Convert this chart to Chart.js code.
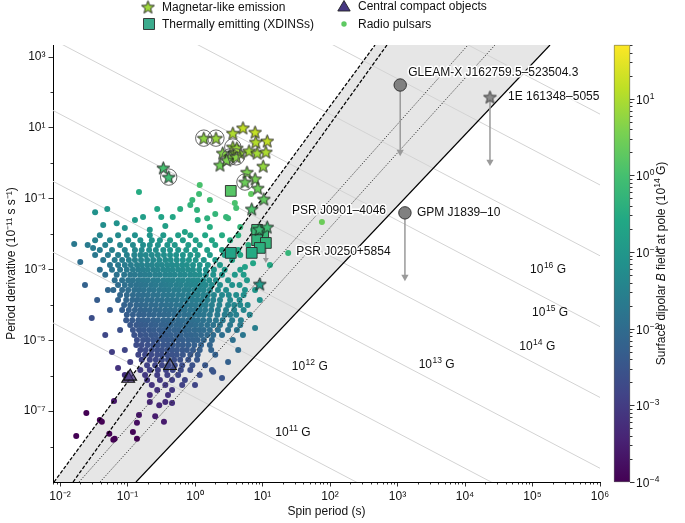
<!DOCTYPE html>
<html><head><meta charset="utf-8">
<script src="https://cdn.jsdelivr.net/npm/chart.js@4.4.1/dist/chart.umd.min.js"></script>
<style>html,body{margin:0;padding:0;background:#fff}#wrap{width:685px;height:523px}</style>
</head><body><div id="wrap"><canvas id="c" width="685" height="523"></canvas></div>
<script>
// ---------------- DATA (log10 values) ----------------
// Radio pulsars: rows of [log10 Pdot (1e-11 s/s), [log10 P (s), ...]]
const pulsarRows = [
 [-0.61,[0.07]],[-0.81,[-0.83]],[-0.87,[0.06,0.83]],[-1.04,[-0.04,0.22]],[-1.12,[0.59]],[-1.18,[-0.07]],
 [-1.26,[0.61]],[-1.29,[-1.30,-0.56,-0.22]],[-1.32,[0.03]],[-1.38,[-1.48]],[-1.43,[0.30]],
 [-1.52,[-0.77,-0.50,-0.33,0.46]],[-1.55,[0.18,0.49]],[-1.60,[-0.89,0.04]],[-1.69,[-1.16]],[-1.74,[-1.36]],
 [-1.77,[-0.44]],[-1.80,[0.22,0.67]],[-1.83,[-1.04]],[-1.88,[-0.67,0.86]],[-1.94,[-0.15]],
 [-2.03,[-1.41,-1.14,-0.89,-0.67,-0.47,-0.25,-0.07,0.15,0.40,0.64]],
 [-2.17,[-1.48,-1.26,-0.99,-0.81,-0.64,-0.52,-0.37,-0.18,0.01,0.25,0.52]],
 [-2.28,[-1.79]],
 [-2.31,[-1.59,-1.33,-1.11,-0.92,-0.77,-0.67,-0.55,-0.41,-0.30,-0.10,0.07,0.30,0.79]],
 [-2.39,[-1.51]],
 [-2.45,[-1.41,-1.23,-1.04,-0.89,-0.79,-0.68,-0.58,-0.47,-0.37,-0.25,-0.13,0.00,0.18,0.40,0.64]],
 [-2.59,[-1.48,-1.29,-1.14,-1.01,-0.90,-0.81,-0.73,-0.64,-0.55,-0.46,-0.37,-0.28,-0.18,-0.07,0.04,0.22,0.44,0.67]],
 [-2.73,[-1.36,-1.19,-1.08,-0.98,-0.89,-0.80,-0.71,-0.62,-0.53,-0.44,-0.36,-0.27,-0.18,-0.09,0.01,0.13,0.30,0.55]],
 [-2.79,[-1.70]],[-2.82,[0.86]],
 [-2.87,[-1.26,-1.14,-1.04,-0.95,-0.86,-0.79,-0.71,-0.64,-0.56,-0.49,-0.41,-0.34,-0.27,-0.19,-0.12,-0.03,0.07,0.19,0.37,1.11]],
 [-2.93,[0.74]],
 [-3.01,[-1.41,-1.23,-1.11,-1.01,-0.92,-0.84,-0.77,-0.70,-0.62,-0.55,-0.47,-0.40,-0.33,-0.25,-0.18,-0.10,-0.03,0.06,0.16,0.28,0.44,0.67]],
 [-3.15,[-1.33,-1.16,-1.05,-0.96,-0.89,-0.81,-0.74,-0.67,-0.59,-0.52,-0.44,-0.37,-0.30,-0.22,-0.15,-0.07,0.00,0.07,0.16,0.27,0.40,0.59,0.72]],
 [-3.30,[-1.19,-1.08,-0.99,-0.92,-0.84,-0.77,-0.70,-0.62,-0.55,-0.47,-0.40,-0.33,-0.25,-0.18,-0.10,-0.03,0.04,0.12,0.21,0.31,0.49,0.77]],
 [-3.44,[-1.63,-1.14,-1.04,-0.95,-0.87,-0.80,-0.73,-0.65,-0.58,-0.50,-0.43,-0.36,-0.28,-0.21,-0.13,-0.06,0.01,0.09,0.16,0.25,0.37,0.55,0.66]],
 [-3.58,[-1.29,-1.21,-1.08,-0.99,-0.90,-0.83,-0.76,-0.68,-0.61,-0.53,-0.46,-0.39,-0.31,-0.24,-0.16,-0.09,-0.01,0.06,0.13,0.22,0.34,0.46,0.74,0.89]],
 [-3.72,[-1.11,-1.01,-0.92,-0.84,-0.77,-0.70,-0.62,-0.55,-0.47,-0.40,-0.33,-0.25,-0.18,-0.10,-0.03,0.04,0.12,0.19,0.28,0.40,0.50,0.61,0.72]],
 [-3.86,[-1.45,-1.14,-1.02,-0.93,-0.86,-0.79,-0.71,-0.64,-0.56,-0.49,-0.41,-0.34,-0.27,-0.19,-0.12,-0.04,0.03,0.10,0.18,0.27,0.37,0.52,0.66,0.96]],
 [-4.00,[-1.05,-0.96,-0.87,-0.80,-0.73,-0.65,-0.58,-0.50,-0.43,-0.36,-0.28,-0.21,-0.13,-0.06,0.01,0.09,0.16,0.25,0.36,0.49,0.58,0.67,0.78]],
 [-4.14,[-1.26,-1.08,-0.98,-0.89,-0.81,-0.74,-0.67,-0.59,-0.52,-0.44,-0.37,-0.30,-0.22,-0.15,-0.07,0.00,0.07,0.15,0.24,0.34,0.46,0.58,0.72]],
 [-4.28,[-1.01,-0.92,-0.83,-0.76,-0.68,-0.61,-0.53,-0.46,-0.39,-0.31,-0.24,-0.16,-0.09,-0.01,0.06,0.13,0.22,0.33,0.44,0.52,0.61,0.81]],
 [-4.37,[-1.53]],
 [-4.43,[-1.02,-0.93,-0.84,-0.77,-0.70,-0.62,-0.55,-0.47,-0.40,-0.33,-0.25,-0.18,-0.10,-0.03,0.04,0.12,0.21,0.31,0.41,0.55,0.68]],
 [-4.57,[-0.96,-0.87,-0.80,-0.73,-0.65,-0.58,-0.50,-0.43,-0.36,-0.28,-0.21,-0.13,-0.06,0.01,0.09,0.18,0.27,0.37,0.52,0.67]],
 [-4.65,[0.89]],
 [-4.71,[-1.11,-0.92,-0.83,-0.76,-0.68,-0.61,-0.53,-0.46,-0.39,-0.31,-0.24,-0.16,-0.09,-0.01,0.06,0.13,0.22,0.34,0.49,0.62]],
 [-4.85,[-1.33,-0.90,-0.81,-0.73,-0.65,-0.58,-0.50,-0.43,-0.36,-0.28,-0.21,-0.13,-0.06,0.01,0.09,0.18,0.27,0.40,0.71]],
 [-4.99,[-0.86,-0.77,-0.70,-0.62,-0.55,-0.47,-0.40,-0.33,-0.25,-0.18,-0.10,-0.03,0.04,0.13,0.25,0.56]],
 [-5.13,[-0.87,-0.79,-0.70,-0.62,-0.55,-0.47,-0.40,-0.33,-0.25,-0.18,-0.10,-0.01,0.09,0.22]],
 [-5.27,[-1.04,-0.81,-0.73,-0.64,-0.56,-0.49,-0.41,-0.34,-0.27,-0.19,-0.12,-0.03,0.07,0.24,0.64]],
 [-5.33,[-1.23]],
 [-5.41,[-0.84,-0.74,-0.65,-0.56,-0.49,-0.41,-0.34,-0.27,-0.18,-0.07,0.04,0.30]],
 [-5.55,[-0.79,-0.67,-0.58,-0.49,-0.40,-0.31,-0.22,-0.10,0.03]],
 [-5.61,[-0.96,0.49]],
 [-5.70,[-0.71,-0.59,-0.49,-0.40,-0.30,-0.19,-0.04,0.15]],
 [-5.78,[-1.14]],
 [-5.84,[-0.81,-0.67,-0.55,-0.43,-0.33,-0.21,-0.07,0.25]],
 [-5.89,[0.27]],
 [-5.98,[-1.04,-0.74,-0.56,-0.41,-0.25,0.07]],
 [-6.06,[0.40]],
 [-6.12,[-0.71,-0.52,-0.34,-0.15]],
 [-6.26,[-0.64,-0.44,-0.19,0.00]],
 [-6.40,[-0.56,-0.34]],[-6.54,[-0.67,-0.40]],[-6.71,[-1.20]],[-6.74,[-0.67,-0.44]],[-6.77,[-0.34]],
 [-6.83,[-0.53]],[-7.05,[-1.61]],[-7.11,[-0.83]],[-7.14,[-0.59]],[-7.25,[-1.41]],[-7.30,[-1.38,-0.46]],
 [-7.33,[-0.86]],[-7.59,[-0.92]],[-7.64,[-1.27]],[-7.70,[-1.76]],[-7.78,[-1.19,-0.86]],[-7.81,[-1.21]]
];
// Named radio pulsars
const namedPsr = ['PSR J0901–4046','PSR J0250+5854'];
const namedPsrLogP = [1.88, 1.38];
const namedPsrLogPdot = [-1.66, -2.53];
// Magnetar-like emission
const magLogP =    [0.71,0.89,0.56,1.07,0.90,0.13,0.31,0.56,0.41,0.59,0.67,0.80,0.92,1.05,0.52,0.61,0.37,1.01,0.77,0.74,0.89,0.93,1.02,0.84,-0.47,-0.39,0.95,1.07,0.96,0.62,0.47];
const magLogPdot = [1.00,0.88,0.85,0.63,0.60,0.71,0.71,0.46,0.29,0.29,0.29,0.35,0.29,0.32,0.18,0.18,-0.05,-0.08,-0.25,-0.53,-0.44,-0.70,-1.01,-1.29,-0.13,-0.39,-1.86,-1.80,-3.41,0.43,0.09];
const magRadio =   [0,0,0,0,0,1,1,1,0,0,0,0,0,0,1,1,0,0,0,1,0,0,0,0,0,1,0,0,0,0,0];
// Thermally emitting (XDINSs)
const xdinsLogP =    [0.53,0.53,0.92,1.01,0.92,1.05,0.96,0.84];
const xdinsLogPdot = [-0.78,-2.53,-1.88,-1.97,-2.17,-2.25,-2.39,-2.53];
const xdinsLimitLogPdot = [null,null,null,null,null,-2.72,null,null];
// Central compact objects
const ccoLogP =    [-0.99,-0.96,-0.37];
const ccoLogPdot = [-6.08,-6.02,-5.72];
// Long-period objects with upper limits
const specialNames = ['GLEAM-X J162759.5–523504.3','GPM J1839–10','1E 161348–5055'];
const specialLogP = [3.04, 3.11, 4.37];
const specialLogPdot = [2.21, -1.40, 1.87];
const specialLimitLogPdot = [0.32, -3.21, 0.04];
const specialIsStar = [0,0,1];
// Death lines: log10 P where each line meets the bottom / top of the plot
const deathLogPdotEnds = [-9, 3.34];
const deathBottomLogP = [-2.089,-1.807,-1.719,-1.407,-0.874];
const deathTopLogP    = [ 2.667, 2.844, 4.044, 4.444, 5.259];
// Constant-B lines (log10 B in gauss) and labelled ones
const bLineExp = [11,12,13,14,15,16,17,18];
const bLabelExp = [11,12,13,14,15,16];
// Axis tick exponents
const xTickExp = [-2,-1,0,1,2,3,4,5,6];
const yTickExp = [-7,-5,-3,-1,1,3];
const yMinorExp = [-8,-6,-4,-2,0,2];
const cbTickExp = [-4,-3,-2,-1,0,1];
const AX = {xMin:-2.104, xMax:6, yMin:-9, yMax:3.34, cbMin:-4, cbMax:1.7};

// ---------------- helpers ----------------
const FONT = "'Liberation Sans', Arial, Helvetica, sans-serif";
Chart.defaults.font.family = FONT;
Chart.defaults.color = '#111';
const P10 = v => Math.pow(10, v);
const SUP = {'-':'⁻','0':'⁰','1':'¹','2':'²','3':'³','4':'⁴','5':'⁵','6':'⁶','7':'⁷','8':'⁸','9':'⁹'};
const sup = n => String(n).split('').map(c => SUP[c]).join('');
const VIR = ['#440154','#482475','#414487','#355f8d','#2a788e','#21918c','#22a884','#44bf70','#7ad151','#bddf26','#fde725'];
const VIRRGB = VIR.map(h => [parseInt(h.slice(1,3),16),parseInt(h.slice(3,5),16),parseInt(h.slice(5,7),16)]);
function cmap(t, alpha){ t=Math.max(0,Math.min(1,t)); const s=t*10; const i=Math.min(9,Math.floor(s)); const f=s-i;
  const a=VIRRGB[i], b=VIRRGB[i+1];
  const rgb=[0,1,2].map(k=>Math.round(a[k]+(b[k]-a[k])*f)).join(',');
  return alpha===undefined ? 'rgb('+rgb+')' : 'rgba('+rgb+','+alpha+')'; }
const logB14 = (lp, lpd) => Math.log10(6.4e19) - 14 + 0.5*(lp + lpd - 11);
const bColor = (lp, lpd, al) => cmap((logB14(lp,lpd)-AX.cbMin)/(AX.cbMax-AX.cbMin), al);
function starCanvas(fill, stroke, R){
  const s = Math.ceil(2*R+3); const c = document.createElement('canvas'); c.width=c.height=s;
  const g = c.getContext('2d'); g.translate(s/2, s/2+0.6); g.beginPath();
  for (let k=0;k<10;k++){ const r = k%2 ? R*0.42 : R; const a = -Math.PI/2 + k*Math.PI/5; g.lineTo(r*Math.cos(a), r*Math.sin(a)); }
  g.closePath(); g.fillStyle=fill; g.fill(); g.lineWidth=0.9; g.strokeStyle=stroke; g.lineJoin='miter'; g.stroke(); return c; }
// "10^n suffix" drawn with a raised smaller exponent; returns width
function drawPow(ctx, n, x, y, align, suffix){
  const base='12px '+FONT, small='8.5px '+FONT; suffix = suffix || '';
  ctx.font=base; const w1=ctx.measureText('10').width; const w3=ctx.measureText(suffix).width;
  const es=String(n).replace('-','−'); ctx.font=small; const w2=ctx.measureText(es).width+0.5;
  const tw=w1+w2+w3; let x0 = align==='center' ? x-tw/2 : (align==='right' ? x-tw : x);
  ctx.textAlign='left'; ctx.textBaseline='middle';
  ctx.font=base; ctx.fillText('10',x0,y);
  ctx.font=small; ctx.fillText(es,x0+w1+0.5,y-4.5);
  ctx.font=base; if (suffix) ctx.fillText(suffix,x0+w1+w2,y);
  return tw;
}

// ---------------- datasets ----------------
const pulsarPts = [], pulsarCols = [];
pulsarRows.forEach(([lpd, lps]) => lps.forEach(lp => { pulsarPts.push({x:P10(lp), y:P10(lpd)}); pulsarCols.push(bColor(lp,lpd)); }));
namedPsrLogP.forEach((lp,i) => { pulsarPts.push({x:P10(lp), y:P10(namedPsrLogPdot[i])}); pulsarCols.push(bColor(lp,namedPsrLogPdot[i])); });

const magImgs = magLogP.map((lp,i) => starCanvas(bColor(lp, magLogPdot[i]), '#1a1a1a', 6.8));
const grayStar = starCanvas('#8a8a8a', '#333', 6.8);
const ds = [];

// gray region between first dashed and solid death line
ds.push({type:'line', data:[
  {x:P10(deathBottomLogP[0]), y:P10(deathLogPdotEnds[0])},{x:P10(deathTopLogP[0]), y:P10(deathLogPdotEnds[1])},
  {x:P10(deathTopLogP[4]), y:P10(deathLogPdotEnds[1])},{x:P10(deathBottomLogP[4]), y:P10(deathLogPdotEnds[0])}],
  fill:'shape', backgroundColor:'#e6e6e6', borderColor:'rgba(0,0,0,0)', borderWidth:0, pointRadius:0, order:10});
// constant-B lines
bLineExp.forEach(n => {
  const k = 2*(n - Math.log10(6.4e19)) + 11; // log10(P*Pdot) in plot units
  ds.push({type:'line', data:[{x:P10(AX.xMin), y:P10(k-AX.xMin)},{x:P10(AX.xMax), y:P10(k-AX.xMax)}],
    borderColor:'#d3d3d3', borderWidth:1, pointRadius:0, fill:false, order:9});
});
// death lines
const dlDash = [[3.6,1.8],[3.6,1.8],[1.2,1.6],[1.2,1.6],[]];
const dlWidth = [1.25,1.25,0.9,0.9,1.2];
const dlColor = ['#000','#000','#222','#222','#000'];
deathBottomLogP.forEach((b,i) => ds.push({type:'line', data:[{x:P10(b),y:P10(deathLogPdotEnds[0])},{x:P10(deathTopLogP[i]),y:P10(deathLogPdotEnds[1])}],
  borderColor:dlColor[i], borderWidth:dlWidth[i], borderDash:dlDash[i], pointRadius:0, fill:false, order:7}));
// radio pulsars
ds.push({type:'scatter', data:pulsarPts, pointRadius:3, pointBorderWidth:0, borderWidth:0,
  backgroundColor: c => pulsarCols[c.dataIndex], pointBackgroundColor: c => pulsarCols[c.dataIndex], order:8});
// CCOs
ds.push({type:'scatter', data:ccoLogP.map((lp,i)=>({x:P10(lp),y:P10(ccoLogPdot[i])})), pointStyle:'triangle', pointRadius:7.4,
  pointBackgroundColor: c => bColor(ccoLogP[c.dataIndex], ccoLogPdot[c.dataIndex], 0.7), pointBorderColor:'#111', pointBorderWidth:1.1, order:6});
// XDINS upper limit arrow
xdinsLimitLogPdot.forEach((lim,i) => { if (lim===null) return;
  ds.push({type:'line', data:[{x:P10(xdinsLogP[i]),y:P10(xdinsLogPdot[i])},{x:P10(xdinsLogP[i]),y:P10(lim)}],
    borderColor:'#999', borderWidth:1.4, pointRadius:[0,3.4], pointStyle:'triangle', pointRotation:180,
    pointBackgroundColor:'#999', pointBorderWidth:0, fill:false, order:5}); });
// XDINSs
ds.push({type:'scatter', data:xdinsLogP.map((lp,i)=>({x:P10(lp),y:P10(xdinsLogPdot[i])})), pointStyle:'rect', pointRadius:7.6,
  pointBackgroundColor: c => bColor(xdinsLogP[c.dataIndex], xdinsLogPdot[c.dataIndex]), pointBorderColor:'#2a2a2a', pointBorderWidth:0.9, order:4});
// magnetars
ds.push({type:'scatter', data:magLogP.map((lp,i)=>({x:P10(lp),y:P10(magLogPdot[i])})), pointStyle: c => magImgs[c.dataIndex], pointRadius:6, order:3});
ds.push({type:'scatter', data:magLogP.map((lp,i)=>({x:P10(lp),y:P10(magLogPdot[i])})).filter((p,i)=>magRadio[i]), pointStyle:'circle', pointRadius:8.2,
  pointBackgroundColor:'rgba(255,255,255,0)', pointBorderColor:'#555', pointBorderWidth:0.9, order:2});
// long-period objects: arrows + markers
specialLogP.forEach((lp,i) => ds.push({type:'line', data:[{x:P10(lp),y:P10(specialLogPdot[i])},{x:P10(lp),y:P10(specialLimitLogPdot[i])}],
  borderColor:'#9a9a9a', borderWidth:1.5, pointRadius:[0,4.2], pointStyle:'triangle', pointRotation:180,
  pointBackgroundColor:'#9a9a9a', pointBorderWidth:0, fill:false, order:1}));
ds.push({type:'scatter', data:specialLogP.map((lp,i)=>({x:P10(lp),y:P10(specialLogPdot[i])})),
  pointStyle: c => specialIsStar[c.dataIndex] ? grayStar : 'circle', pointRadius:6.2,
  pointBackgroundColor:'#808080', pointBorderColor:'#333', pointBorderWidth:1, order:0});

// ---------------- overlay plugin (minor ticks, colorbar, legend, labels) ----------------
function haloText(ctx, t, x, y){ ctx.lineWidth=3; ctx.strokeStyle='#fff'; ctx.lineJoin='round'; ctx.strokeText(t,x,y); ctx.fillStyle='#111'; ctx.fillText(t,x,y); }
const bLabelPos = {11:[1.45,-7.62],12:[1.70,-5.75],13:[3.58,-5.70],14:[5.07,-5.19],15:[5.26,-4.23],16:[5.23,-3.01]};
const nameOffsets = {'GLEAM-X J162759.5–523504.3':[8,-12],'GPM J1839–10':[12,0],'1E 161348–5055':[18,0],'PSR J0901–4046':[-30,-11],'PSR J0250+5854':[8,-1]};
const overlay = {
  id:'overlay',
  afterDraw(chart){
    const {ctx, chartArea:a, scales:{x, y}} = chart;
    ctx.save();
    // minor ticks
    ctx.strokeStyle='#000'; ctx.lineWidth=0.8;
    for (let e=-3;e<6;e++) for (let m=2;m<=9;m++){ const v=m*P10(e); if (v<P10(AX.xMin)||v>P10(AX.xMax)) continue;
      const px=Math.round(x.getPixelForValue(v))+0.5; ctx.beginPath(); ctx.moveTo(px,a.bottom); ctx.lineTo(px,a.bottom+2.5); ctx.stroke(); }
    yMinorExp.forEach(e => { const py=Math.round(y.getPixelForValue(P10(e)))+0.5; ctx.beginPath(); ctx.moveTo(a.left,py); ctx.lineTo(a.left-2.5,py); ctx.stroke(); });
    // B-field labels
    ctx.fillStyle='#111';
    bLabelExp.forEach(n => { const p=bLabelPos[n]; drawPow(ctx, n, x.getPixelForValue(P10(p[0])), y.getPixelForValue(P10(p[1])), 'center', ' G'); });
    // object names
    ctx.font='12px '+FONT; ctx.textAlign='left'; ctx.textBaseline='middle';
    specialNames.forEach((nm,i) => { const o=nameOffsets[nm];
      haloText(ctx, nm, x.getPixelForValue(P10(specialLogP[i]))+o[0], y.getPixelForValue(P10(specialLogPdot[i]))+o[1]); });
    namedPsr.forEach((nm,i) => { const o=nameOffsets[nm];
      haloText(ctx, nm, x.getPixelForValue(P10(namedPsrLogP[i]))+o[0], y.getPixelForValue(P10(namedPsrLogPdot[i]))+o[1]); });
    // colorbar
    const cbL=a.right+14, cbW=16, cbT=a.top, cbB=a.bottom;
    const grad=ctx.createLinearGradient(0,cbB,0,cbT); VIR.forEach((c,i)=>grad.addColorStop(i/10,c));
    ctx.fillStyle=grad; ctx.fillRect(cbL,cbT,cbW,cbB-cbT);
    ctx.strokeStyle='#666'; ctx.lineWidth=0.6; ctx.strokeRect(cbL+0.3,cbT+0.3,cbW-0.6,cbB-cbT-0.6);
    const cbY = lv => cbB - (lv-AX.cbMin)/(AX.cbMax-AX.cbMin)*(cbB-cbT);
    ctx.strokeStyle='#000'; ctx.lineWidth=0.8;
    for (let e=-4;e<=1;e++) for (let m=2;m<=9;m++){ const lv=e+Math.log10(m); if (lv>AX.cbMax) continue;
      const py=Math.round(cbY(lv))+0.5; ctx.beginPath(); ctx.moveTo(cbL+cbW,py); ctx.lineTo(cbL+cbW+2.5,py); ctx.stroke(); }
    ctx.fillStyle='#111';
    cbTickExp.forEach(e => { const py=Math.round(cbY(e))+0.5; ctx.beginPath(); ctx.moveTo(cbL+cbW,py); ctx.lineTo(cbL+cbW+4.5,py); ctx.stroke();
      drawPow(ctx, e, cbL+cbW+6, py+1.5, 'left'); });
    // colorbar title (rotated)
    ctx.save(); ctx.translate(a.right+62, (cbT+cbB)/2); ctx.rotate(-Math.PI/2);
    const segs=[['Surface dipolar ','12px '],['B','italic 12px '],[' field at pole (10','12px '],['14','8.5px '],[' G)','12px ']];
    let tw=0; segs.forEach(s=>{ctx.font=s[1]+FONT; tw+=ctx.measureText(s[0]).width;});
    let cx=-tw/2; ctx.textAlign='left'; ctx.textBaseline='middle';
    segs.forEach(s=>{ctx.font=s[1]+FONT; ctx.fillText(s[0],cx,s[1]==='8.5px '?-4.5:0); cx+=ctx.measureText(s[0]).width;});
    ctx.restore();
    // legend
    ctx.font='12px '+FONT; ctx.textAlign='left'; ctx.textBaseline='middle'; ctx.fillStyle='#111';
    const legStar = starCanvas('#9fd93c', '#1a1a1a', 6.8);
    ctx.drawImage(legStar, 148-legStar.width/2, 7-legStar.height/2);
    ctx.fillStyle='#3cab8d'; ctx.fillRect(143.5,18.5,11,11); ctx.strokeStyle='#2a2a2a'; ctx.lineWidth=0.9; ctx.strokeRect(143.5,18.5,11,11);
    ctx.beginPath(); ctx.moveTo(344,0.5); ctx.lineTo(350.2,11); ctx.lineTo(337.8,11); ctx.closePath(); ctx.fillStyle='#453781'; ctx.fill(); ctx.strokeStyle='#222'; ctx.stroke();
    ctx.beginPath(); ctx.arc(344,24,2.7,0,Math.PI*2); ctx.fillStyle='#5ec962'; ctx.fill();
    ctx.fillStyle='#111';
    ctx.fillText('Magnetar-like emission',162,7.5); ctx.fillText('Thermally emitting (XDINSs)',162,24.5);
    ctx.fillText('Central compact objects',358,6.5); ctx.fillText('Radio pulsars',358,24.5);
    ctx.restore();
  }
};

new Chart(document.getElementById('c'), {
  type:'scatter',
  data:{datasets:ds},
  options:{
    responsive:false, animation:false, devicePixelRatio:1,
    layout:{padding:{top:45,right:85,left:0,bottom:0}},
    plugins:{legend:{display:false}, tooltip:{enabled:false}},
    scales:{
      x:{type:'logarithmic', position:'bottom', min:P10(AX.xMin), max:P10(AX.xMax),
        afterBuildTicks: s => { s.ticks = xTickExp.map(e => ({value:P10(e), major:true})); },
        afterFit: s => { s.height = 41; },
        ticks:{callback: v => '10'+sup(Math.round(Math.log10(v))), autoSkip:false, maxRotation:0, padding:3, font:{size:12}, color:'#111'},
        grid:{drawOnChartArea:false, drawTicks:true, tickLength:4.5, tickColor:'#000', tickWidth:0.8},
        border:{display:true, color:'#000', width:1},
        title:{display:true, text:'Spin period (s)', font:{size:12}, color:'#111', padding:{top:0,bottom:4}}},
      y:{type:'logarithmic', position:'left', min:P10(AX.yMin), max:P10(AX.yMax),
        afterBuildTicks: s => { s.ticks = yTickExp.map(e => ({value:P10(e), major:true})); },
        afterFit: s => { s.width = 53; },
        ticks:{callback: v => '10'+sup(Math.round(Math.log10(v))), autoSkip:false, padding:3, font:{size:12}, color:'#111'},
        grid:{drawOnChartArea:false, drawTicks:true, tickLength:4.5, tickColor:'#000', tickWidth:0.8},
        border:{display:true, color:'#000', width:1},
        title:{display:true, text:'Period derivative (10'+sup(-11)+' s s'+sup(-1)+')', font:{size:12}, color:'#111', padding:{top:4,bottom:0}}}
    }
  },
  plugins:[overlay]
});
</script></body></html>
